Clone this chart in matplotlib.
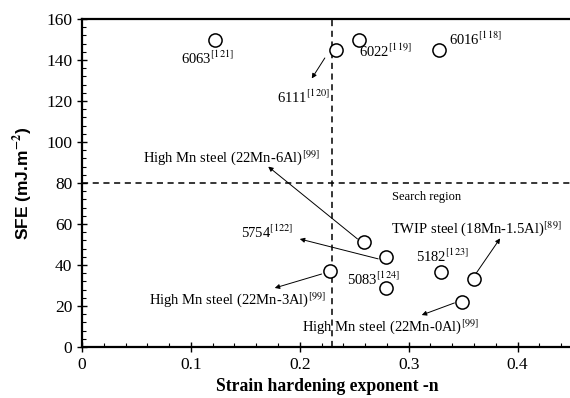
import matplotlib
matplotlib.use("Agg")
import matplotlib.pyplot as plt
from matplotlib.ticker import MultipleLocator

plt.rcParams['font.family'] = ['Liberation Serif', 'DejaVu Serif']
plt.rcParams['mathtext.fontset'] = 'stix'

# data
names = ['6063', '6111', '6022', '6016', '22Mn-6Al', '5754', '22Mn-3Al',
         '5083', '5182', 'TWIP', '22Mn-0Al']
n_vals = [0.122, 0.233, 0.254, 0.328, 0.259, 0.279, 0.228, 0.279, 0.330, 0.360, 0.349]
sfe = [150, 145, 150, 145, 51, 44, 37, 29, 36.5, 33, 22]

n_limit = 0.23
sfe_limit = 80

# labels: text, text position, optional arrow (tail, head)
labels = [
    (r'6063$^{[121]}$', (0.115, 141), None),
    (r'6111$^{[120]}$', (0.203, 122), ((0.223, 141), (0.211, 131))),
    (r'6022$^{[119]}$', (0.279, 144), None),
    (r'6016$^{[118]}$', (0.361, 150), None),
    (r'High Mn steel (22Mn-6Al)$^{[99]}$', (0.137, 92.5), ((0.253, 52.7), (0.171, 88))),
    (r'5754$^{[122]}$', (0.170, 56), ((0.272, 43), (0.200, 52.7))),
    (r'High Mn steel (22Mn-3Al)$^{[99]}$', (0.143, 23), ((0.220, 35.6), (0.177, 28.8))),
    (r'5083$^{[124]}$', (0.268, 33), None),
    (r'5182$^{[123]}$', (0.331, 44), None),
    (r'TWIP steel (18Mn-1.5Al)$^{[89]}$', (0.362, 58), ((0.362, 36), (0.384, 53))),
    (r'High Mn steel (22Mn-0Al)$^{[99]}$', (0.283, 10), ((0.342, 21.5), (0.312, 15.6))),
]

fig = plt.figure(figsize=(5.7, 3.98), dpi=100)
ax = fig.add_axes([0.1439, 0.1281, 0.8596, 0.8241])

ax.scatter(n_vals, sfe, s=90, facecolors='white', edgecolors='black', linewidths=1.1, zorder=3)

ax.axvline(n_limit, color='black', ls=(0, (4, 3)), lw=1.1)
ax.axhline(sfe_limit, color='black', ls=(0, (4, 3)), lw=1.1)

for txt, pos, arrow in labels:
    ax.text(pos[0], pos[1], txt, ha='center', va='center', fontsize=10.5)
    if arrow is not None:
        ax.annotate('', xy=arrow[1], xytext=arrow[0],
                    arrowprops=dict(arrowstyle='-|>', color='black', lw=0.7,
                                    mutation_scale=7, shrinkA=0, shrinkB=0))

ax.text(0.316, 73, 'Search region', ha='center', va='center', fontsize=9)

ax.set_xlim(0, 0.45)
ax.set_ylim(0, 160)
ax.xaxis.set_major_locator(MultipleLocator(0.1))
ax.xaxis.set_minor_locator(MultipleLocator(0.02))
ax.yaxis.set_major_locator(MultipleLocator(20))
ax.yaxis.set_minor_locator(MultipleLocator(4))
ax.set_xticks([0, 0.1, 0.2, 0.3, 0.4])
ax.set_xticklabels(['0', '0.1', '0.2', '0.3', '0.4'])
ax.tick_params(which='major', direction='inout', length=7, width=1, labelsize=12.5)
ax.tick_params(which='minor', direction='in', length=3, width=0.8)
ax.tick_params(top=False, right=False)

for s in ['left', 'bottom', 'top']:
    ax.spines[s].set_linewidth(1.6)
ax.spines['right'].set_visible(False)

ax.set_xlabel('Strain hardening exponent -n', fontsize=12.7, fontweight='bold', labelpad=4)
ax.set_ylabel(r'SFE (mJ.m$^{\mathbf{-2}}$)', fontsize=12.5, fontweight='bold',
              family=['Liberation Sans', 'DejaVu Sans'], labelpad=8)

fig.savefig('out.png', dpi=100)
